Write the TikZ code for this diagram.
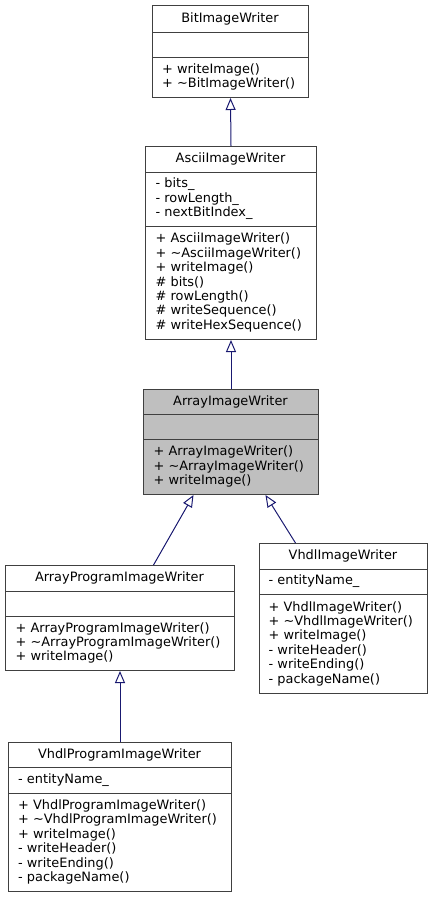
\documentclass[tikz,border=0pt]{standalone}
\usepackage{fontspec}
\setmainfont{DejaVu Sans}
\usetikzlibrary{arrows.meta}
\definecolor{boxline}{HTML}{404040}
\definecolor{edgecol}{HTML}{191970}
\definecolor{grayfill}{HTML}{BFBFBF}
\tikzset{
  cls/.style={draw=boxline, line width=1pt, inner sep=0pt, anchor=north west, rectangle},
  divline/.style={draw=boxline, line width=1pt},
  txt/.style={inner sep=0pt, align=left, anchor=west, font=\fontsize{12.9}{14.4}\selectfont},
  hdr/.style={inner sep=0pt, anchor=center, font=\fontsize{12.9}{14.4}\selectfont},
  inh/.style={draw=edgecol, line width=1pt, -{Triangle[open, length=12pt, width=10pt, line width=1pt]}}
}
\begin{document}
\begin{tikzpicture}[x=1pt,y=-1pt]
\useasboundingbox (0,0) rectangle (432,897);
% BitImageWriter
\node[cls, minimum width=156pt, minimum height=92pt] (bit) at (152,5) {};
\draw[divline] (bit.west |- 0,32) -- (bit.east |- 0,32);
\draw[divline] (bit.west |- 0,57) -- (bit.east |- 0,57);
\node[hdr] (bith) at (230,18.5) {BitImageWriter};
\node[txt] (bitm) at (162,77) {+ writeImage()\\+ \textasciitilde BitImageWriter()};
% AsciiImageWriter
\node[cls, minimum width=171pt, minimum height=193pt] (ascii) at (145,146) {};
\draw[divline] (ascii.west |- 0,172) -- (ascii.east |- 0,172);
\draw[divline] (ascii.west |- 0,226) -- (ascii.east |- 0,226);
\node[hdr] (asciih) at (230.5,159) {AsciiImageWriter};
\node[txt] (asciia) at (155.5,199) {- bits\_\\- rowLength\_\\- nextBitIndex\_};
\node[txt] (asciim) at (155.5,282.5) {+ AsciiImageWriter()\\+ \textasciitilde AsciiImageWriter()\\+ writeImage()\\\# bits()\\\# rowLength()\\\# writeSequence()\\\# writeHexSequence()};
% ArrayImageWriter
\node[cls, fill=grayfill, minimum width=175pt, minimum height=105pt] (arr) at (143,389) {};
\draw[divline] (arr.west |- 0,414) -- (arr.east |- 0,414);
\draw[divline] (arr.west |- 0,439) -- (arr.east |- 0,439);
\node[hdr] (arrh) at (230.5,401.5) {ArrayImageWriter};
\node[txt] (arrm) at (153.5,466.5) {+ ArrayImageWriter()\\+ \textasciitilde ArrayImageWriter()\\+ writeImage()};
% ArrayProgramImageWriter
\node[cls, minimum width=229pt, minimum height=105pt] (ap) at (5,565) {};
\draw[divline] (ap.west |- 0,591) -- (ap.east |- 0,591);
\draw[divline] (ap.west |- 0,616) -- (ap.east |- 0,616);
\node[hdr] (aph) at (119.5,578) {ArrayProgramImageWriter};
\node[txt] (apm) at (15.5,643) {+ ArrayProgramImageWriter()\\+ \textasciitilde ArrayProgramImageWriter()\\+ writeImage()};
% VhdlImageWriter
\node[cls, minimum width=168pt, minimum height=150pt] (vh) at (259,543) {};
\draw[divline] (vh.west |- 0,569) -- (vh.east |- 0,569);
\draw[divline] (vh.west |- 0,594) -- (vh.east |- 0,594);
\node[hdr] (vhh) at (343,556) {VhdlImageWriter};
\node[txt] (vha) at (268.5,581.5) {- entityName\_};
\node[txt] (vhm) at (268.5,643.5) {+ VhdlImageWriter()\\+ \textasciitilde VhdlImageWriter()\\+ writeImage()\\- writeHeader()\\- writeEnding()\\- packageName()};
% VhdlProgramImageWriter
\node[cls, minimum width=223pt, minimum height=149pt] (vp) at (8,742) {};
\draw[divline] (vp.west |- 0,767) -- (vp.east |- 0,767);
\draw[divline] (vp.west |- 0,793) -- (vp.east |- 0,793);
\node[hdr] (vph) at (119.5,754.5) {VhdlProgramImageWriter};
\node[txt] (vpa) at (18,780) {- entityName\_};
\node[txt] (vpm) at (18,842) {+ VhdlProgramImageWriter()\\+ \textasciitilde VhdlProgramImageWriter()\\+ writeImage()\\- writeHeader()\\- writeEnding()\\- packageName()};
% inheritance edges
\draw[inh] (ascii.north) -- (bit.south);
\draw[inh] (arr.north) -- (ascii.south);
\draw[inh] ([xshift=33.5pt]ap.north) -- ([xshift=-37.5pt]arr.south);
\draw[inh] ([xshift=-48pt]vh.north) -- ([xshift=34.5pt]arr.south);
\draw[inh] (vp.north) -- (ap.south);
\end{tikzpicture}
\end{document}
